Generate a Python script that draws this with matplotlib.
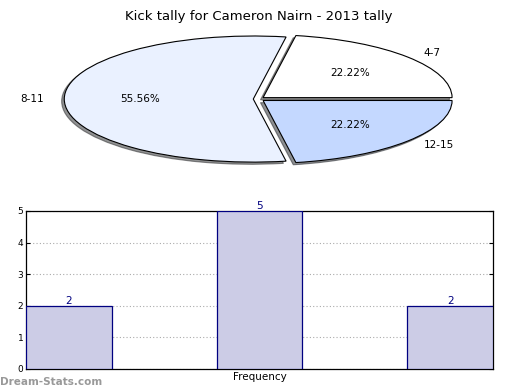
import matplotlib
matplotlib.use("Agg")
import matplotlib.pyplot as plt

title = "Kick tally for Cameron Nairn - 2013 tally"
categories = ["4-7", "8-11", "12-15"]
counts = [2, 5, 2]
pie_colors = ["#FFFFFF", "#EAF1FF", "#C4D8FF"]
bar_positions = [0, 1, 2]
bar_values = [2, 5, 2]

fig = plt.figure(figsize=(5.2, 3.9), dpi=100)

# ---- Pie (elliptical) ----
axp = fig.add_axes([12.3 / 520, 0.552, 491.4 / 520, 0.388])
wedges, texts, autotexts = axp.pie(
    counts, labels=categories, colors=pie_colors, startangle=0,
    counterclock=True, explode=[0.035, 0.025, 0.035],
    autopct="%.2f%%", pctdistance=0.6, labeldistance=1.11,
    shadow={"ox": -0.01, "oy": -0.025, "shade": 0.85},
    wedgeprops={"edgecolor": "black", "linewidth": 0.8},
    textprops={"fontsize": 7.5},
)
axp.set_aspect("auto")
axp.set_xlim(-1.3, 1.3)
axp.set_ylim(-1.2, 1.2)
axp.axis("off")
fig.text(0.498, 0.975, title, ha="center", va="top", fontsize=9.5)

# ---- Bars ----
axb = fig.add_axes([26 / 520, 21 / 390, 467 / 520, 158 / 390])
w = 0.45
bars = axb.bar(bar_positions, bar_values, width=w, color="#CCCCE6",
               edgecolor="#000080", linewidth=0.9, zorder=3)
for x, v in zip(bar_positions, bar_values):
    axb.text(x, v, str(v), ha="center", va="bottom", color="#000080",
             fontsize=7.5)
axb.set_xlim(-w / 2, bar_positions[-1] + w / 2)
axb.set_ylim(0, 5)
axb.set_yticks(range(0, 6))
axb.set_xticks([])
axb.yaxis.grid(True, linestyle=(0, (1, 2)), color="#AAAAAA", linewidth=0.8)
axb.tick_params(axis="y", labelsize=6.5, direction="in", length=3,
                right=True, pad=2)
for s in axb.spines.values():
    s.set_linewidth(0.9)
axb.set_xlabel("Frequency", fontsize=7.5, labelpad=2)

fig.text(0.0, 0.008, "Dream-Stats.com", ha="left", va="bottom",
         fontsize=7.5, color="#999999", fontweight="bold")

fig.savefig("out.png", dpi=100)
